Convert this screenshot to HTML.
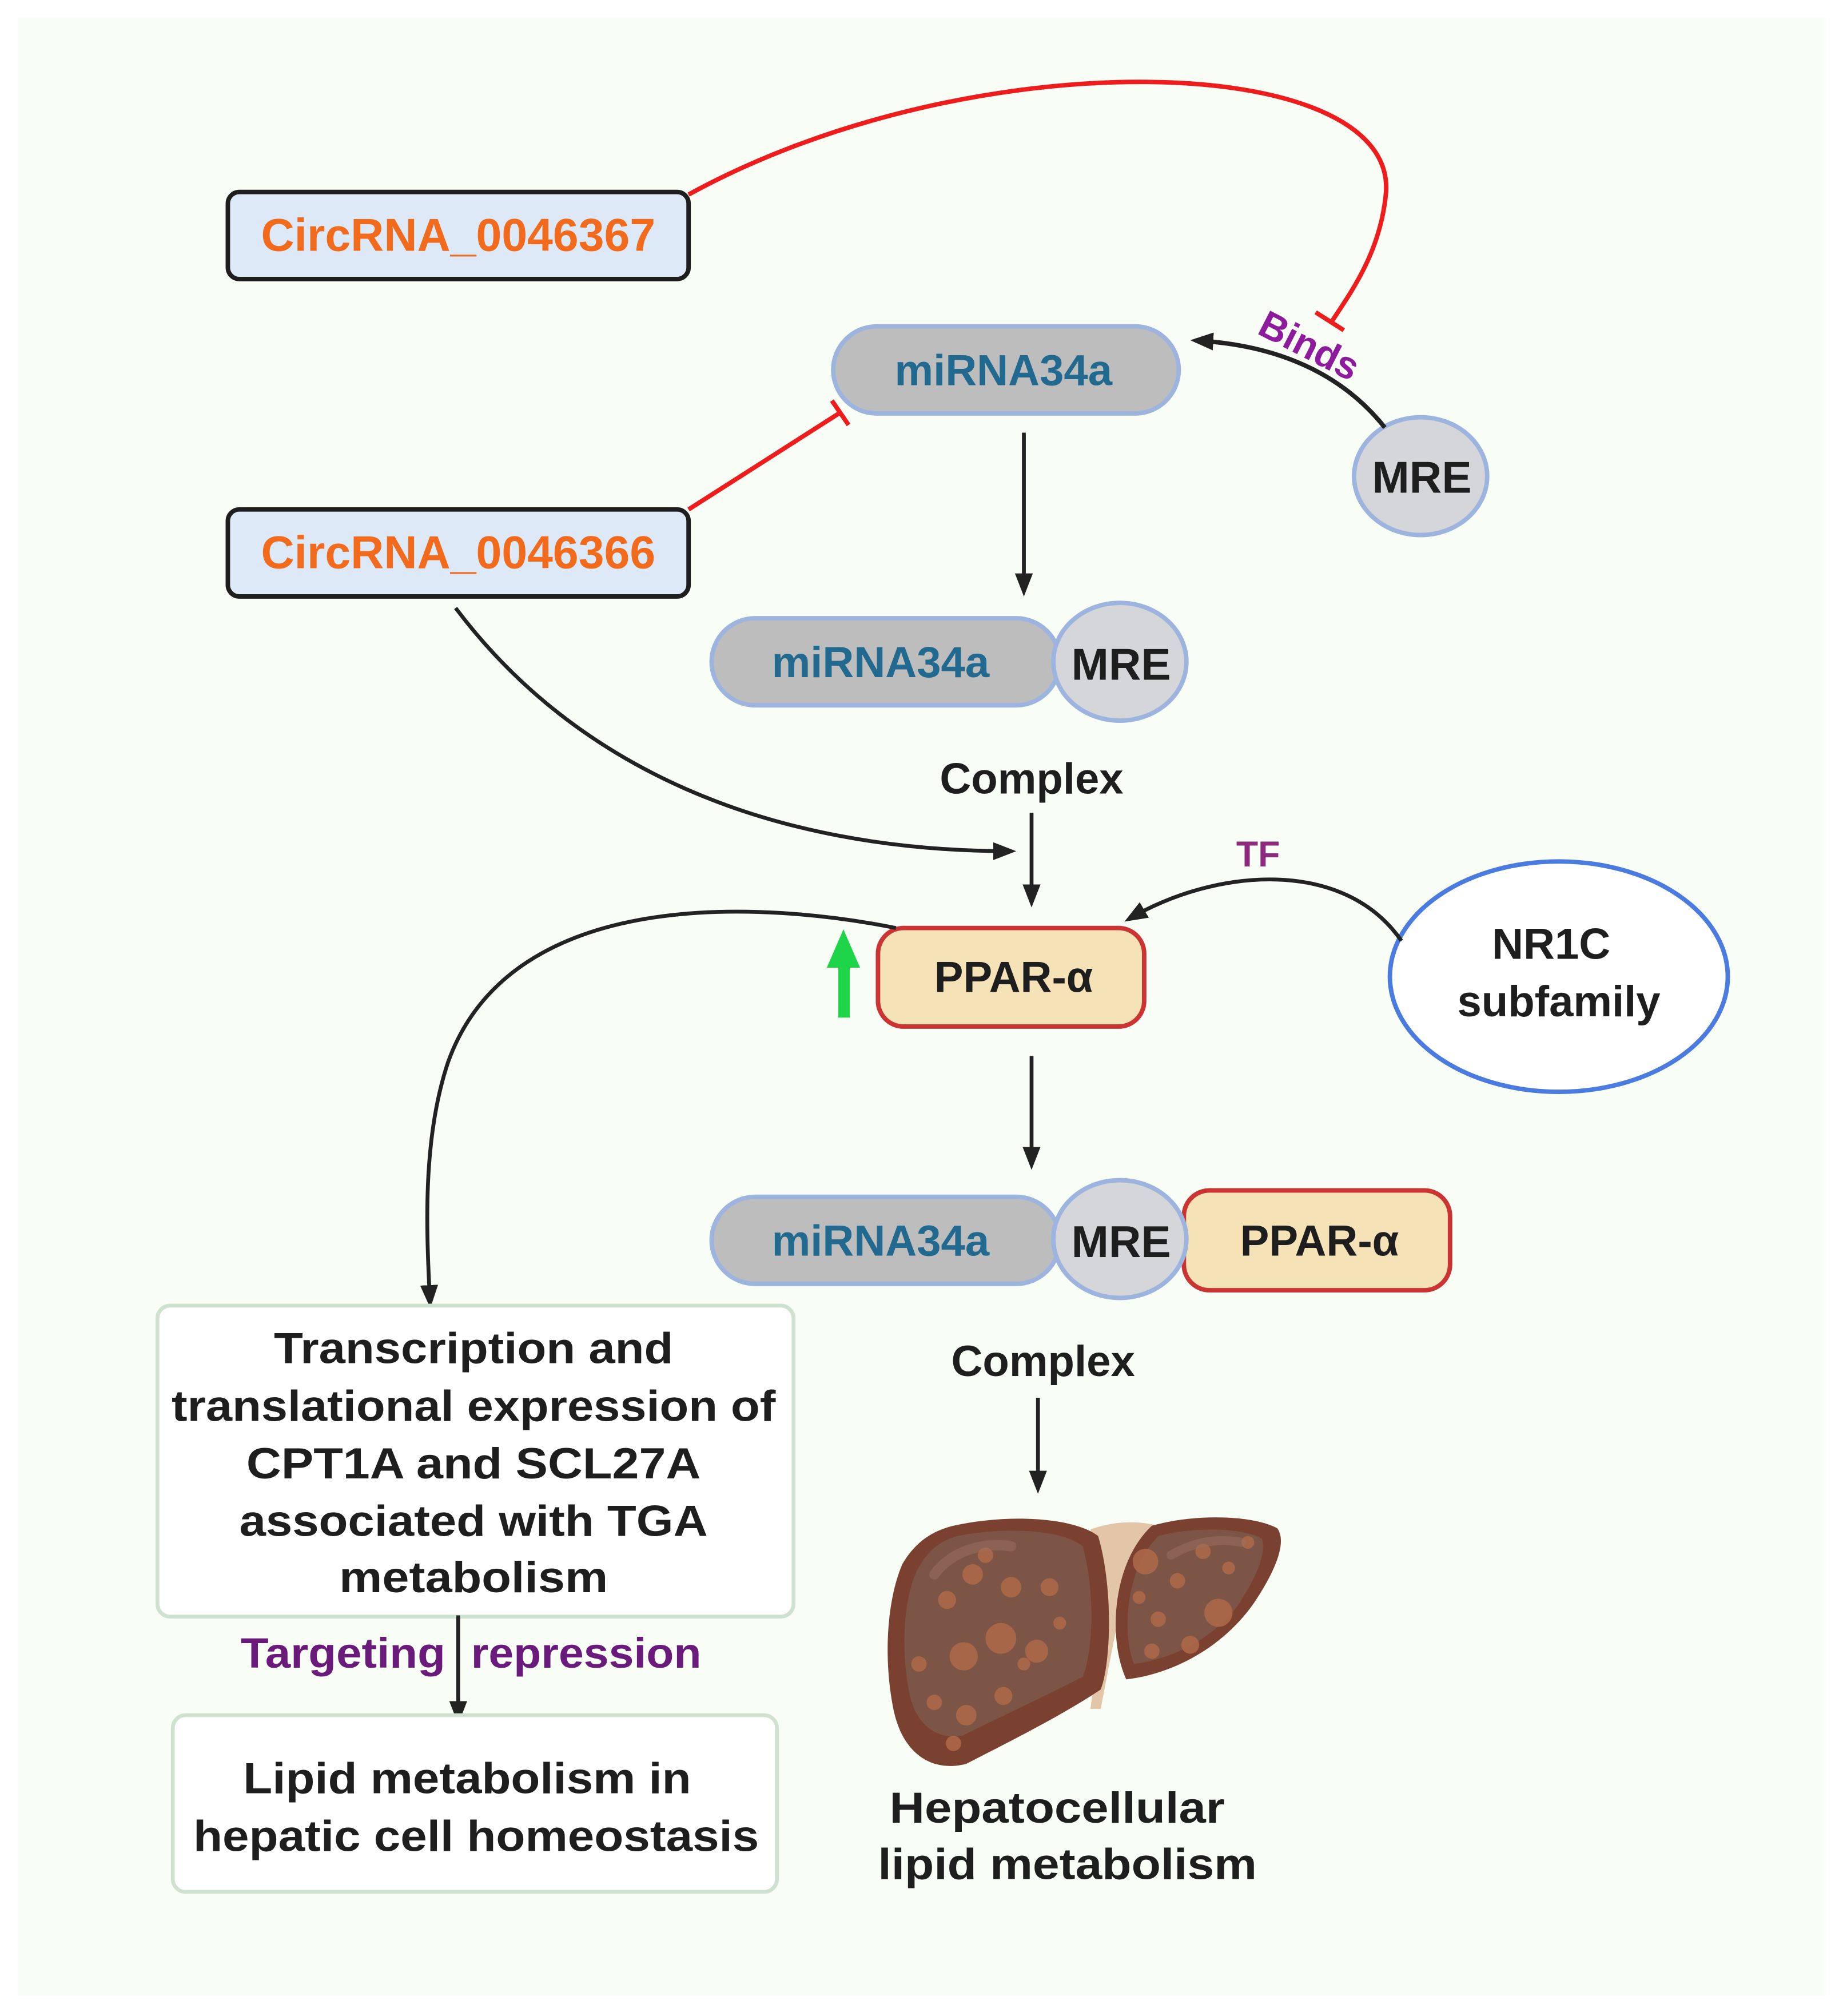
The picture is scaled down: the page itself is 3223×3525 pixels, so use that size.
<!DOCTYPE html>
<html><head><meta charset="utf-8"><style>
html,body{margin:0;padding:0;background:#fff;}
svg{display:block;}
text{font-family:"Liberation Sans",sans-serif;font-weight:bold;}
</style></head><body>
<svg width="3223" height="3525" viewBox="0 0 1440 1575" xmlns="http://www.w3.org/2000/svg">
<defs>
<marker id="ahb" markerWidth="18" markerHeight="18" refX="14" refY="9" orient="auto" markerUnits="userSpaceOnUse" viewBox="0 0 18 18">
<path d="M0,2 L18,9 L0,16 Z" fill="#222"/></marker>
</defs>
<rect width="1440" height="1575" fill="#ffffff"/>
<rect x="14" y="14" width="1412" height="1545" fill="#f8fdf6"/>

<path d="M538 152 C760 30 1090 40 1083 150 C1079 195 1058 225 1040 252" fill="none" stroke="#ee1c1c" stroke-width="3.5"/>
<line x1="1028" y1="244" x2="1050" y2="258" stroke="#ee1c1c" stroke-width="3.5"/>
<line x1="538" y1="398" x2="657" y2="322" stroke="#ee1c1c" stroke-width="3.5"/>
<line x1="650" y1="313" x2="663" y2="332" stroke="#ee1c1c" stroke-width="3.5"/>

<rect x="178" y="150" width="360" height="68" rx="9" fill="#dde9f7" stroke="#1e1e1e" stroke-width="3.5"/>
<text x="358" y="196" font-size="36" fill="#f26a1b" text-anchor="middle">CircRNA_0046367</text>
<rect x="178" y="398" width="360" height="68" rx="9" fill="#dde9f7" stroke="#1e1e1e" stroke-width="3.5"/>
<text x="358" y="444" font-size="36" fill="#f26a1b" text-anchor="middle">CircRNA_0046366</text>

<rect x="651" y="255" width="270" height="68" rx="34" fill="#bdbdbd" stroke="#9db5de" stroke-width="3.5"/>
<text x="784" y="301" font-size="34" fill="#21698f" text-anchor="middle">miRNA34a</text>
<ellipse cx="1110" cy="372" rx="52" ry="46" fill="#d4d6da" stroke="#9db5de" stroke-width="3.5"/>
<text x="1111" y="385" font-size="35" fill="#1e1e1e" text-anchor="middle">MRE</text>
<path d="M1082 334 C1055 300 1010 270 934 266" fill="none" stroke="#222" stroke-width="3.5" marker-end="url(#ahb)"/>
<text x="1022" y="280" font-size="30" fill="#8e1a9e" text-anchor="middle" transform="rotate(27 1022 272)">Binds</text>

<line x1="800" y1="338" x2="800" y2="462" stroke="#222" stroke-width="3" marker-end="url(#ahb)"/>

<rect x="556" y="483" width="272" height="68" rx="34" fill="#bdbdbd" stroke="#9db5de" stroke-width="3.5"/>
<text x="688" y="529" font-size="34" fill="#21698f" text-anchor="middle">miRNA34a</text>
<ellipse cx="875" cy="517" rx="52" ry="46" fill="#d4d6da" stroke="#9db5de" stroke-width="3.5"/>
<text x="876" y="531" font-size="35" fill="#1e1e1e" text-anchor="middle">MRE</text>
<text x="806" y="620" font-size="34" fill="#1e1e1e" text-anchor="middle">Complex</text>

<path d="M356 475 C450 600 600 665 790 665" fill="none" stroke="#222" stroke-width="3" marker-end="url(#ahb)"/>
<line x1="806" y1="635" x2="806" y2="705" stroke="#222" stroke-width="3" marker-end="url(#ahb)"/>

<rect x="686" y="725" width="208" height="77" rx="20" fill="#f5e2b6" stroke="#cc3333" stroke-width="3.5"/>
<text x="792" y="775" font-size="34" fill="#1e1e1e" text-anchor="middle">PPAR-α</text>
<rect x="655" y="752" width="9" height="43" fill="#1ed54a"/>
<path d="M646 756 L659 726 L672 756 Z" fill="#1ed54a"/>

<ellipse cx="1218" cy="763" rx="132" ry="90" fill="#ffffff" stroke="#4a7be0" stroke-width="3.5"/>
<text x="1212" y="749" font-size="34" fill="#1e1e1e" text-anchor="middle">NR1C</text>
<text x="1218" y="794" font-size="34" fill="#1e1e1e" text-anchor="middle">subfamily</text>
<path d="M1095 735 C1050 670 950 678 882 718" fill="none" stroke="#222" stroke-width="3" marker-end="url(#ahb)"/>
<text x="983" y="677" font-size="28" fill="#8e2a7e" text-anchor="middle">TF</text>

<path d="M700 725 C600 705 400 690 350 830 C330 890 333 960 336 1018" fill="none" stroke="#222" stroke-width="3" marker-end="url(#ahb)"/>

<line x1="806" y1="825" x2="806" y2="910" stroke="#222" stroke-width="3" marker-end="url(#ahb)"/>

<rect x="556" y="935" width="272" height="68" rx="34" fill="#bdbdbd" stroke="#9db5de" stroke-width="3.5"/>
<text x="688" y="981" font-size="34" fill="#21698f" text-anchor="middle">miRNA34a</text>
<rect x="925" y="930" width="208" height="78" rx="20" fill="#f5e2b6" stroke="#cc3333" stroke-width="3.5"/>
<text x="1031" y="981" font-size="34" fill="#1e1e1e" text-anchor="middle">PPAR-α</text>
<ellipse cx="875" cy="968" rx="52" ry="46" fill="#d4d6da" stroke="#9db5de" stroke-width="3.5"/>
<text x="876" y="982" font-size="35" fill="#1e1e1e" text-anchor="middle">MRE</text>
<text x="815" y="1075" font-size="34" fill="#1e1e1e" text-anchor="middle">Complex</text>
<line x1="811" y1="1092" x2="811" y2="1163" stroke="#222" stroke-width="3" marker-end="url(#ahb)"/>

<rect x="123" y="1020" width="497" height="243" rx="10" fill="#ffffff" stroke="#cfe2cf" stroke-width="3"/>
<g font-size="34" fill="#1e1e1e" text-anchor="middle">
<text x="370" y="1065" textLength="312" lengthAdjust="spacingAndGlyphs">Transcription and</text>
<text x="370" y="1110" textLength="472" lengthAdjust="spacingAndGlyphs">translational expression of</text>
<text x="370" y="1155" textLength="355" lengthAdjust="spacingAndGlyphs">CPT1A and SCL27A</text>
<text x="370" y="1200" textLength="366" lengthAdjust="spacingAndGlyphs">associated with TGA</text>
<text x="370" y="1244" textLength="210" lengthAdjust="spacingAndGlyphs">metabolism</text>
</g>
<text x="268" y="1303" font-size="33" fill="#6a1a7a" text-anchor="middle" textLength="160" lengthAdjust="spacingAndGlyphs">Targeting</text>
<text x="458" y="1303" font-size="33" fill="#6a1a7a" text-anchor="middle" textLength="180" lengthAdjust="spacingAndGlyphs">repression</text>
<line x1="358" y1="1262" x2="358" y2="1343" stroke="#222" stroke-width="3" marker-end="url(#ahb)"/>

<rect x="135" y="1340" width="472" height="138" rx="10" fill="#ffffff" stroke="#cfe2cf" stroke-width="3"/>
<text x="365" y="1401" font-size="34" fill="#1e1e1e" text-anchor="middle" textLength="350" lengthAdjust="spacingAndGlyphs">Lipid metabolism in</text>
<text x="372" y="1446" font-size="34" fill="#1e1e1e" text-anchor="middle" textLength="442" lengthAdjust="spacingAndGlyphs">hepatic cell homeostasis</text>

<!-- liver -->
<g>
<path d="M852 1195 C870 1188 890 1188 905 1192 L888 1215 C875 1250 868 1295 860 1335 L852 1335 C858 1290 862 1240 852 1195 Z" fill="#e3c6a8"/>
<path d="M745 1192 C790 1182 840 1186 858 1200 C870 1240 868 1300 860 1320 C830 1340 790 1360 755 1378 C728 1385 705 1370 698 1335 C690 1295 693 1250 705 1222 C715 1205 728 1196 745 1192 Z" fill="#7a4030"/>
<path d="M748 1200 C790 1192 832 1196 846 1208 C856 1245 854 1290 846 1310 C815 1326 780 1342 752 1356 C730 1360 714 1345 710 1320 C704 1288 706 1250 716 1228 C724 1212 734 1204 748 1200 Z" fill="#7d5546"/>
<path d="M900 1192 C935 1182 980 1184 998 1194 C1006 1205 996 1228 980 1252 C955 1288 915 1308 880 1312 C866 1282 868 1222 900 1192 Z" fill="#7a4030"/>
<path d="M905 1200 C935 1192 972 1194 986 1202 C990 1215 980 1235 966 1256 C945 1282 915 1296 886 1300 C876 1275 880 1225 905 1200 Z" fill="#7d5546"/>
<g fill="#b06a4a" opacity="0.85">
<circle cx="782" cy="1280" r="12"/><circle cx="810" cy="1290" r="9"/><circle cx="753" cy="1294" r="11"/>
<circle cx="760" cy="1230" r="8"/><circle cx="790" cy="1240" r="8"/><circle cx="820" cy="1240" r="7"/>
<circle cx="740" cy="1250" r="7"/><circle cx="730" cy="1330" r="6"/><circle cx="755" cy="1340" r="8"/>
<circle cx="784" cy="1325" r="7"/><circle cx="800" cy="1300" r="5"/><circle cx="745" cy="1362" r="6"/>
<circle cx="828" cy="1268" r="5"/><circle cx="770" cy="1215" r="6"/><circle cx="718" cy="1300" r="6"/>
<circle cx="895" cy="1220" r="10"/><circle cx="952" cy="1260" r="11"/>
<circle cx="940" cy="1212" r="6"/><circle cx="975" cy="1205" r="5"/><circle cx="905" cy="1265" r="6"/>
<circle cx="920" cy="1235" r="6"/><circle cx="930" cy="1285" r="7"/><circle cx="900" cy="1290" r="6"/>
<circle cx="960" cy="1225" r="5"/><circle cx="890" cy="1248" r="5"/>
</g>
<path d="M730 1230 C745 1210 770 1205 790 1208" fill="none" stroke="#9a7060" stroke-width="8" stroke-linecap="round" opacity="0.5"/>
<path d="M915 1215 C935 1203 955 1202 970 1205" fill="none" stroke="#9a7060" stroke-width="7" stroke-linecap="round" opacity="0.5"/>
</g>

<text x="826" y="1424" font-size="34" fill="#1e1e1e" text-anchor="middle" textLength="262" lengthAdjust="spacingAndGlyphs">Hepatocellular</text>
<text x="834" y="1468" font-size="34" fill="#1e1e1e" text-anchor="middle" textLength="296" lengthAdjust="spacingAndGlyphs">lipid metabolism</text>
</svg>
</body></html>
